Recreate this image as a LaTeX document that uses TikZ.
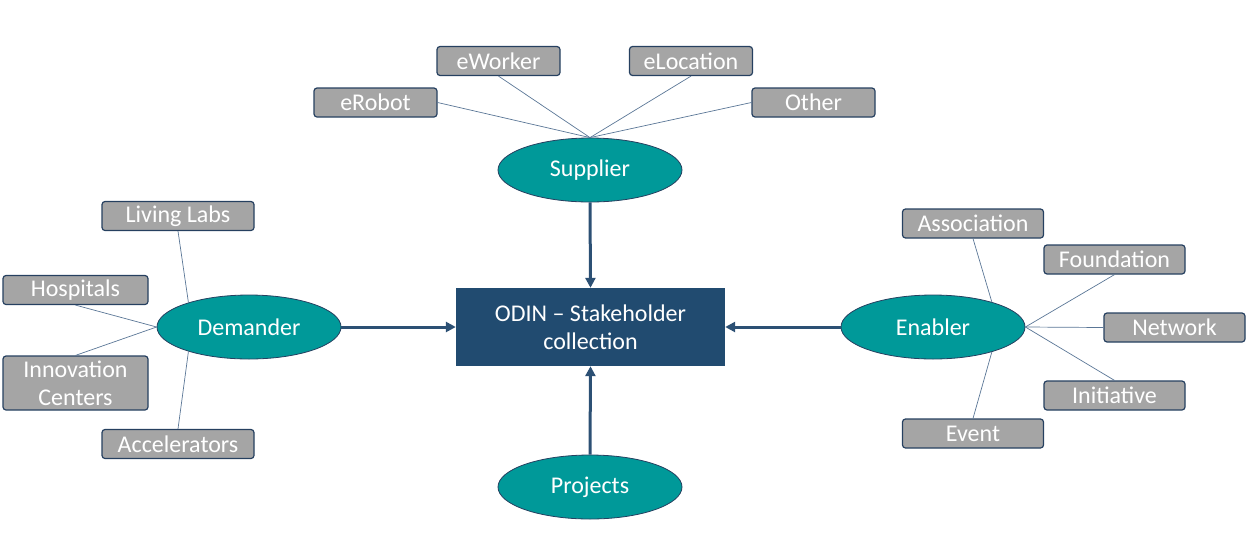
\documentclass[tikz,border=0pt]{standalone}
\usepackage{fontspec}
\setmainfont{Carlito}
\usetikzlibrary{shapes.geometric,arrows.meta}
\definecolor{tealfill}{RGB}{0,153,153}
\definecolor{navyline}{RGB}{38,64,96}
\definecolor{graybox}{RGB}{165,165,165}
\definecolor{centerbox}{RGB}{33,75,112}
\definecolor{arrowblue}{RGB}{44,80,116}
\definecolor{thinline}{RGB}{90,118,150}
\begin{document}
\begin{tikzpicture}[x=1pt,y=-1pt,
   font=\fontsize{24}{28}\selectfont,
   role/.style={ellipse,draw=navyline,line width=0.8pt,fill=tealfill,text=white,
      minimum width=184pt,minimum height=64pt,inner sep=0pt},
   item/.style={rectangle,rounded corners=3pt,draw=navyline,line width=1.2pt,fill=graybox,
      text=white,minimum width=123pt,minimum height=29pt,inner sep=0pt},
   wide/.style={item,minimum width=141pt},
   link/.style={draw=thinline,line width=0.7pt},
   feed/.style={draw=arrowblue,line width=3pt,-{Triangle[length=10pt,width=10pt]}}]
   \useasboundingbox (0,0) rectangle (1253,539);
   % centre
   \node[rectangle,fill=centerbox,text=white,minimum width=269pt,minimum height=78pt,
      align=center,inner sep=0pt] (odin) at (590.5,327) {ODIN -- Stakeholder\\collection};
   % stakeholder groups
   \node[role] (sup) at (590,170) {Supplier};
   \node[role] (dem) at (249,327) {Demander};
   \node[role] (enb) at (933,327) {Enabler};
   \node[role] (prj) at (590,487) {Projects};
   % supplier types
   \node[item] (erobot) at (375.5,102.5) {eRobot};
   \node[item] (eworker) at (498.5,61) {eWorker};
   \node[item] (eloc) at (691,61) {eLocation};
   \node[item] (other) at (813.5,102.5) {Other};
   % demander types
   \node[item,minimum width=152pt] (living) at (178,216) {Living Labs};
   \node[item,minimum width=145pt] (hosp) at (75.5,290) {Hospitals};
   \node[item,minimum width=145pt,minimum height=54pt,align=center] (innov) at (75.5,383)
      {Innovation\\Centers};
   \node[item,minimum width=152pt] (accel) at (178,444) {Accelerators};
   % enabler types
   \node[wide] (assoc) at (973,223.5) {Association};
   \node[wide] (found) at (1114.5,259.5) {Foundation};
   \node[wide] (netw) at (1174.5,327.5) {Network};
   \node[wide] (init) at (1114.5,395.5) {Initiative};
   \node[wide] (event) at (973,433.5) {Event};
   % thin links
   \draw[link] (erobot.east) -- (sup.north);
   \draw[link] (eworker.south) -- (sup.north);
   \draw[link] (eloc.south) -- (sup.north);
   \draw[link] (other.west) -- (sup.north);
   \draw[link] (living.south) -- (dem.158);
   \draw[link] (hosp.south) -- (dem.west);
   \draw[link] (innov.north) -- (dem.west);
   \draw[link] (accel.north) -- (dem.202);
   \draw[link] (assoc.south) -- (enb.23);
   \draw[link] (found.south) -- (enb.east);
   \draw[link] (netw.west) -- (enb.east);
   \draw[link] (init.north) -- (enb.east);
   \draw[link] (event.north) -- (enb.-23);
   % arrows into the collection
   \draw[feed] (sup.south) -- (odin.north);
   \draw[feed] (prj.north) -- (odin.south);
   \draw[feed] (dem.east) -- (odin.west);
   \draw[feed] (enb.west) -- (odin.east);
\end{tikzpicture}
\end{document}
